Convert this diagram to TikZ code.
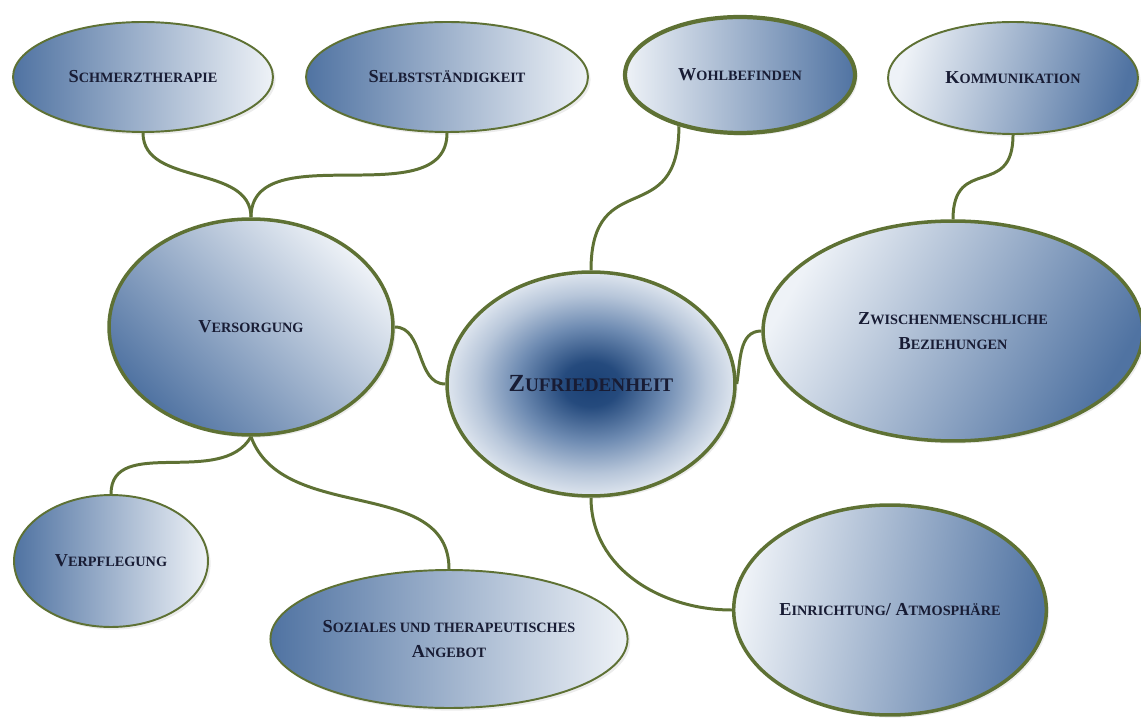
\documentclass[tikz,border=0pt]{standalone}
\usepackage{fontspec}
\setmainfont{Liberation Serif}
\usetikzlibrary{shapes.geometric,shadows}

\definecolor{linegreen}{RGB}{94,113,52}
\definecolor{bluedark}{RGB}{80,115,162}
\definecolor{bluelight}{RGB}{238,242,247}
\definecolor{bluecore}{RGB}{26,64,116}
\definecolor{textnavy}{RGB}{24,28,52}

% dark centre fading out to the rim
\pgfdeclareradialshading{corefade}{\pgfpoint{0bp}{0bp}}{color(0bp)=(bluecore); color(5bp)=(bluecore!80!bluedark); color(13bp)=(bluedark!80!bluelight); color(20bp)=(bluedark!35!bluelight); color(25bp)=(bluelight!90!bluedark); color(50bp)=(bluelight)}

% hand-made small caps
\makeatletter
\newcommand\kp[2]{#1{\pgfmathsetmacro\kpsize{0.78*\f@size}\fontsize{\kpsize}{\kpsize}\selectfont#2}}
\makeatother

\tikzset{
    bubble/.style={ellipse, draw=linegreen, line width=1.1pt, text=textnavy,
        align=center, inner sep=0pt, font=\bfseries\fontsize{10.4}{14}\selectfont,
        drop shadow={opacity=0.15, shadow xshift=1.5pt, shadow yshift=-1.5pt}},
    bigbubble/.style={bubble, line width=2pt},
    darkleft/.style={left color=bluedark, right color=bluelight},
    darkright/.style={left color=bluelight, right color=bluedark},
    link/.style={draw=linegreen, line width=1.7pt},
}

\begin{document}
\begin{tikzpicture}[x=0.02cm, y=0.02cm]
    \useasboundingbox (0, 0) rectangle (1141, 724);

    \node[bubble, darkleft, minimum width=5.2cm, minimum height=2.2cm] (schmerz) at (143, 647) {\kp{S}{CHMERZTHERAPIE}};
    \node[bubble, darkleft, minimum width=5.64cm, minimum height=2.2cm] (selbst) at (447, 647) {\kp{S}{ELBSTSTÄNDIGKEIT}};
    \node[bigbubble, darkright, line width=2.4pt, minimum width=4.6cm, minimum height=2.32cm] (wohl) at (740, 649) {\kp{W}{OHLBEFINDEN}};
    \node[bubble, darkright, shading angle=75, minimum width=5cm, minimum height=2.24cm] (komm) at (1013, 646) {\kp{K}{OMMUNIKATION}};

    \node[bigbubble, darkleft, shading angle=135, minimum width=5.68cm, minimum height=4.32cm] (versorgung) at (251, 397) {\kp{V}{ERSORGUNG}};
    \node[bigbubble, shading=corefade, minimum width=5.76cm, minimum height=4.48cm, font=\bfseries\fontsize{14}{16}\selectfont] (zufrieden) at (591, 340) {\kp{Z}{UFRIEDENHEIT}};
    \node[bigbubble, darkright, shading angle=60, minimum width=7.6cm, minimum height=4.4cm] (zwischen) at (953, 393) {\kp{Z}{WISCHENMENSCHLICHE}\\\kp{B}{EZIEHUNGEN}};

    \node[bubble, darkleft, minimum width=3.88cm, minimum height=2.64cm] (verpflegung) at (111, 163) {\kp{V}{ERPFLEGUNG}};
    \node[bubble, darkleft, minimum width=7.04cm, minimum height=2.76cm] (soziales) at (449, 85) {\kp{S}{OZIALES UND THERAPEUTISCHES}\\\kp{A}{NGEBOT}};
    \node[bigbubble, darkright, shading angle=80, minimum width=6.12cm, minimum height=4.2cm] (einrichtung) at (890, 114) {\kp{E}{INRICHTUNG}/ \kp{A}{TMOSPHÄRE}};

    % branches
    \draw[link] (schmerz.south) to[out=-90, in=90] (versorgung.north);
    \draw[link] (selbst.south) to[out=-90, in=90] (versorgung.north);
    \draw[link] (wohl.220) to[out=-90, in=90, looseness=1.6] (zufrieden.north);
    \draw[link] (komm.south) to[out=-90, in=90, looseness=1.6] (zwischen.north);
    \draw[link] (versorgung.east) to[out=0, in=180] (zufrieden.west);
    \draw[link] (zufrieden.east) to[out=80, in=180] (zwischen.west);
    \draw[link] (zufrieden.south) to[out=-90, in=180] (einrichtung.west);
    \draw[link] (versorgung.south) to[out=-120, in=90] (verpflegung.north);
    \draw[link] (versorgung.south) to[out=-70, in=90] (soziales.north);
\end{tikzpicture}
\end{document}
